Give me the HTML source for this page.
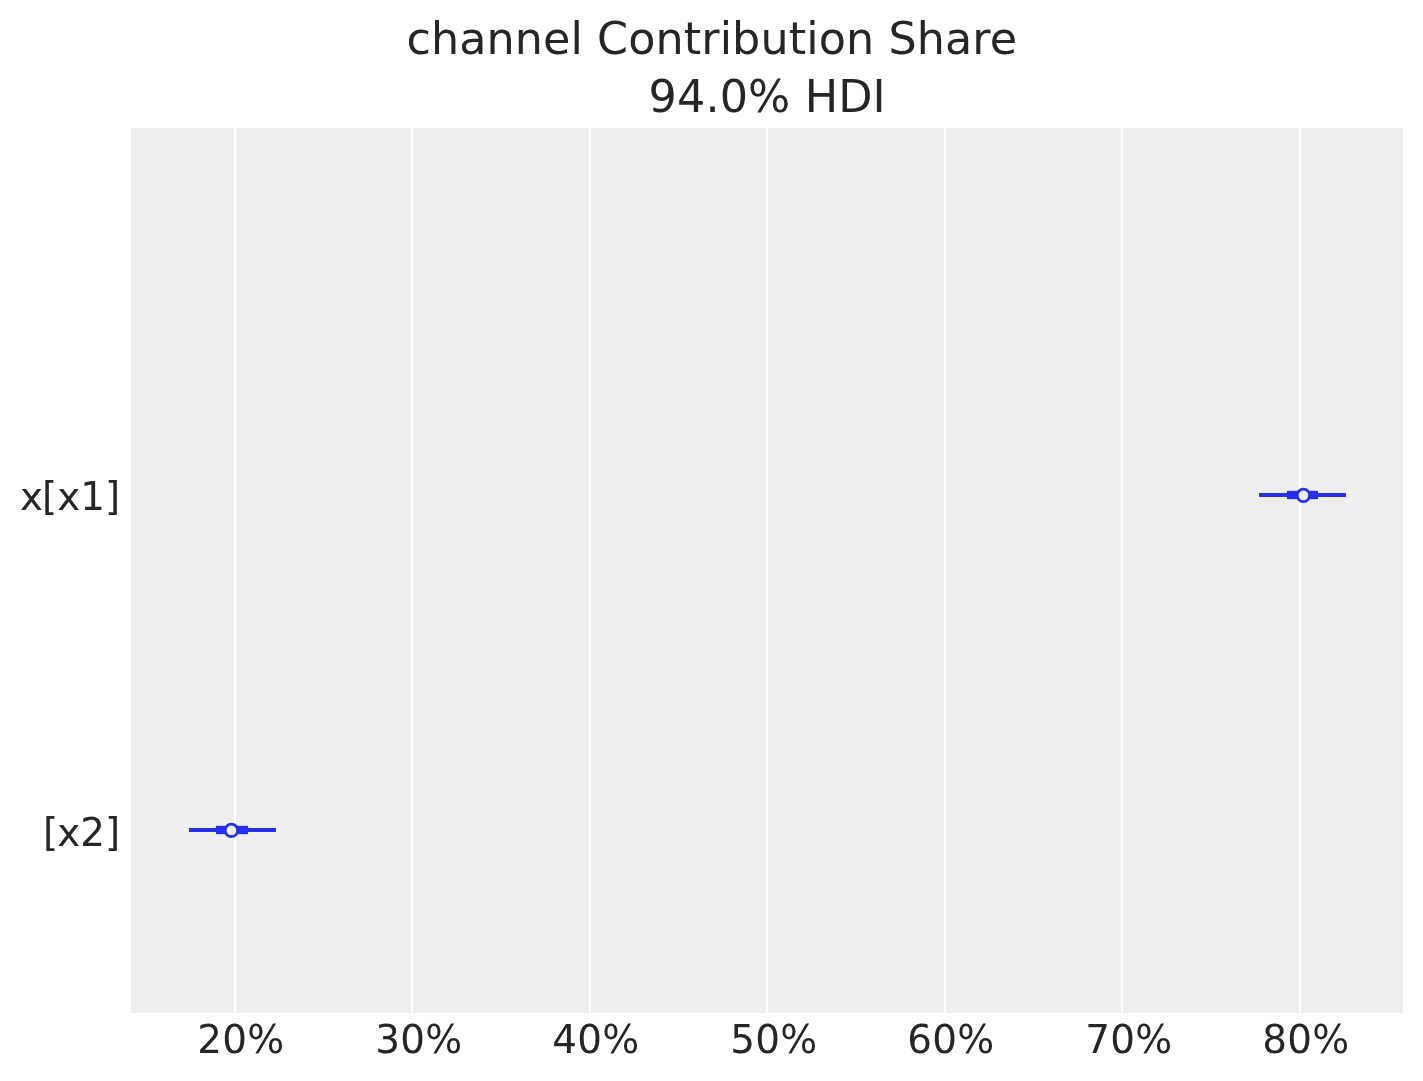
<!DOCTYPE html>
<html lang="en">
<head>
<meta charset="utf-8">
<title>channel Contribution Share</title>
<style>
  html, body { margin: 0; padding: 0; background: #ffffff; }
  body { width: 1423px; height: 1081px; overflow: hidden; }
  svg { display: block; will-change: transform; }
  text { font-family: "DejaVu Sans", "Liberation Sans", sans-serif; fill: #262626; }
  .t16 { font-size: 44.44px; }
  .t14 { font-size: 38.89px; }
</style>
</head>
<body>
<svg width="1423" height="1081" viewBox="0 0 1423 1081">
  <rect x="0" y="0" width="1423" height="1081" fill="#ffffff"/>

  <!-- axes background -->
  <rect x="131" y="128" width="1272" height="885" fill="#eeeeee"/>

  <!-- vertical grid lines -->
  <g stroke="#ffffff" stroke-width="2.22">
    <line x1="235" y1="128" x2="235" y2="1013"/>
    <line x1="412" y1="128" x2="412" y2="1013"/>
    <line x1="590" y1="128" x2="590" y2="1013"/>
    <line x1="767" y1="128" x2="767" y2="1013"/>
    <line x1="945" y1="128" x2="945" y2="1013"/>
    <line x1="1122" y1="128" x2="1122" y2="1013"/>
    <line x1="1300" y1="128" x2="1300" y2="1013"/>
  </g>

  <!-- titles -->
  <text class="t16" x="406.4" y="54.3" textLength="610.6">channel Contribution Share</text>
  <text class="t16" x="648.6" y="111.9" textLength="237.0">94.0% HDI</text>

  <!-- y tick labels -->
  <text class="t14" x="19.95 42.12 57.29 80.31 105.05" y="509.9">x[x1]</text>
  <text class="t14" x="42.95 57.27 80.29 105.03" y="846">[x2]</text>

  <!-- x tick labels -->
  <g class="t14">
    <text x="197.30 222.31 247.14" y="1053">20%</text>
    <text x="375.30 400.31 425.14" y="1053">30%</text>
    <text x="552.30 577.31 602.14" y="1053">40%</text>
    <text x="730.30 755.31 780.14" y="1053">50%</text>
    <text x="907.30 932.31 957.14" y="1053">60%</text>
    <text x="1085.30 1110.31 1135.14" y="1053">70%</text>
    <text x="1262.30 1287.31 1312.14" y="1053">80%</text>
  </g>

  <!-- forest plot: x[x1] -->
  <g stroke="#2a2eec" fill="none">
    <line x1="1259" y1="495" x2="1346" y2="495" stroke-width="4.17"/>
    <line x1="1287" y1="495" x2="1318" y2="495" stroke-width="8.33"/>
    <circle cx="1303.4" cy="495.45" r="6.25" stroke-width="2.8" fill="#eeeeee"/>
  </g>

  <!-- forest plot: [x2] -->
  <g stroke="#2a2eec" fill="none">
    <line x1="189" y1="830" x2="276" y2="830" stroke-width="4.17"/>
    <line x1="216" y1="830" x2="248" y2="830" stroke-width="8.33"/>
    <circle cx="231.4" cy="830.45" r="6.25" stroke-width="2.8" fill="#eeeeee"/>
  </g>
</svg>
</body>
</html>
